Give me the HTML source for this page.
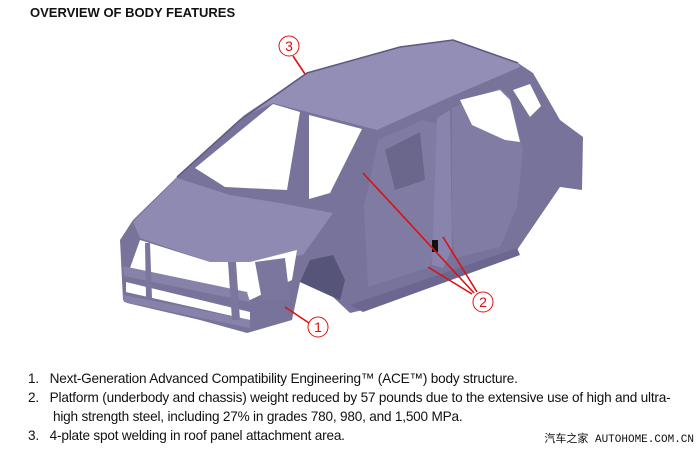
<!DOCTYPE html>
<html><head><meta charset="utf-8"><style>
html,body{margin:0;padding:0;background:#fff;}
body{width:700px;height:450px;position:relative;overflow:hidden;font-family:"Liberation Sans",Arial,sans-serif;}
.t{position:absolute;left:30px;top:5px;font-weight:bold;font-size:13px;color:#111;}
.l{position:absolute;font-size:13.6px;color:#111;letter-spacing:-0.2px;white-space:nowrap;}
.wm{position:absolute;right:6px;top:430px;font-size:11px;font-family:"Liberation Mono","Noto Sans CJK SC",monospace;color:#111;}
</style></head><body>
<div class="t">OVERVIEW OF BODY FEATURES</div>
<svg width="700" height="360" style="position:absolute;left:0;top:0">
<polygon fill="#77739a" points="123,300 120,240 133,220 177,177 240,120 307,73 400,47 453,40 518,63 533,73 560,120 583,137 582,190 560,187 517,250 363,310 350,313 333,297 300,282 292,320 247,333 200,320 127,303"/>
<polygon fill="#928eb6" points="240,118 307,73 400,47 453,40 518,63 520,67 450,97 377,130 273,103"/>
<polyline fill="none" stroke="#5c5880" stroke-width="1.5" points="177,177 240,120 307,73 400,47 453,40 518,63"/>
<polygon fill="#8e8ab2" points="133,222 177,178 230,195 280,203 333,213 303,255 250,262 210,262 140,238"/>
<polygon fill="#fff" points="140,240 210,262 250,262 297,250 292,280 250,300 130,268"/>
<polygon fill="#fff" points="126,282 250,312 250,320 126,292"/>
<polygon fill="#fff" points="128,305 200,322 247,336 130,336"/>
<polygon fill="#8682a9" points="123,266 247,292 250,302 124,276"/>
<polygon fill="#8682a9" points="123,295 250,320 250,328 124,302"/>
<polygon fill="#7a769e" points="145,243 150,243 152,298 146,298"/>
<polygon fill="#7a769e" points="228,262 236,262 240,320 232,320"/>
<polygon fill="#7a769e" points="255,262 285,258 290,300 262,300"/>
<polygon fill="#fff" points="195,168 273,104 300,112 287,190 225,187"/>
<polygon fill="#fff" points="309,115 362,129 330,193 309,199"/>
<polygon fill="#7f7ba3" points="378,140 423,120 437,124 437,240 430,267 368,287 364,207"/>
<polygon fill="#6a668c" points="385,150 420,132 425,180 395,190"/>
<polygon fill="#8884ad" points="437,118 450,110 452,250 443,268 432,265"/>
<polygon fill="#807ca4" points="452,108 500,88 510,97 523,150 517,207 500,247 455,258 452,230"/>
<polygon fill="#fff" points="460,100 500,90 510,100 520,142 505,140 472,125"/>
<polygon fill="#fff" points="513,90 530,84 541,106 530,117"/>
<polygon fill="#57547a" points="300,282 310,260 333,255 345,280 340,300 333,297"/>
<polygon fill="#6b6790" points="350,305 517,248 520,255 363,312"/>
<rect x="432" y="240" width="6" height="12" fill="#111"/>
<g stroke="#d11" stroke-width="1.6" fill="none">
<line x1="293" y1="56" x2="305" y2="74"/>
<line x1="285" y1="307" x2="309" y2="323"/>
<line x1="363" y1="173" x2="474" y2="293"/>
<line x1="443" y1="237" x2="477" y2="292"/>
<line x1="428" y1="267" x2="472" y2="294"/>
</g>
<g fill="#fff" stroke="#d11" stroke-width="1">
<circle cx="289" cy="46" r="10"/>
<circle cx="318" cy="327" r="10"/>
<circle cx="483" cy="302" r="10"/>
</g>
<g fill="#d11" font-family="Liberation Sans, sans-serif" font-size="14" text-anchor="middle">
<text x="289" y="51">3</text>
<text x="318" y="332">1</text>
<text x="483" y="307">2</text>
</g>
</svg>
<div class="l" style="left:28px;top:371px">1.&nbsp;&nbsp;&nbsp;Next-Generation Advanced Compatibility Engineering™ (ACE™) body structure.</div>
<div class="l" style="left:28px;top:390px">2.&nbsp;&nbsp;&nbsp;Platform (underbody and chassis) weight reduced by 57 pounds due to the extensive use of high and ultra-</div>
<div class="l" style="left:53px;top:409px">high strength steel, including 27% in grades 780, 980, and 1,500 MPa.</div>
<div class="l" style="left:28px;top:428px">3.&nbsp;&nbsp;&nbsp;4-plate spot welding in roof panel attachment area.</div>
<div class="wm">汽车之家 AUTOHOME.COM.CN</div>
</body></html>
